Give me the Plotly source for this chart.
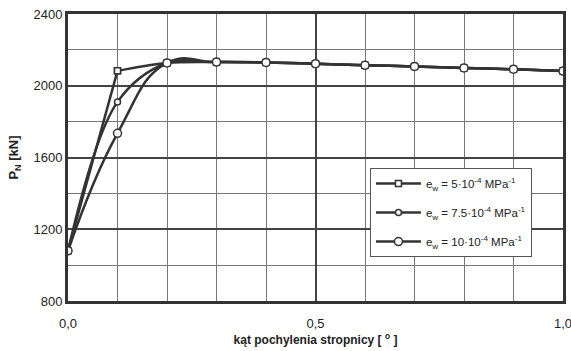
import plotly.graph_objects as go

x_vals = [0.0, 0.1, 0.2, 0.3, 0.4, 0.5, 0.6, 0.7, 0.8, 0.9, 1.0]
s1 = [1080, 2083, 2127, 2132, 2130, 2123, 2114, 2108, 2099, 2092, 2082]
s2 = [1080, 1910, 2127, 2132, 2130, 2123, 2114, 2108, 2099, 2092, 2082]
s3 = [1080, 1735, 2127, 2132, 2130, 2123, 2114, 2108, 2099, 2092, 2082]
names = ["e<sub>w</sub> = 5·10<sup>-4</sup> MPa<sup>-1</sup>",
         "e<sub>w</sub> = 7.5·10<sup>-4</sup> MPa<sup>-1</sup>",
         "e<sub>w</sub> = 10·10<sup>-4</sup> MPa<sup>-1</sup>"]
symbols = ["square", "circle", "circle"]
sizes = [6, 6, 8]
smooth = [1.0, 1.0, 1.3]
x_ticks = [0.0, 0.5, 1.0]
x_ticktext = ["0,0", "0,5", "1,0"]
y_ticks = [800, 1200, 1600, 2000, 2400]

col = "#333333"
fig = go.Figure()
for i, (ys, nm) in enumerate(zip([s1, s2, s3], names)):
    mk = dict(symbol=symbols[i], size=sizes[i], color="white",
              line=dict(color=col, width=1.5))
    start = 0
    if i == 0:
        # steep initial rise drawn as a straight segment
        fig.add_trace(go.Scatter(
            x=x_vals[:2], y=ys[:2], mode="lines+markers", showlegend=False,
            line=dict(color=col, width=2.5), marker=mk, legendgroup=str(i),
        ))
        start = 1
    fig.add_trace(go.Scatter(
        x=x_vals[start:], y=ys[start:], name=nm, mode="lines+markers",
        line=dict(color=col, width=2.5, shape="spline", smoothing=smooth[i]),
        marker=mk, legendgroup=str(i),
    ))

fig.update_layout(
    width=571, height=351,
    margin=dict(l=68, r=8, t=14, b=50),
    paper_bgcolor="white", plot_bgcolor="white",
    font=dict(family="Liberation Sans, Arial", size=12, color="#222222"),
    showlegend=True,
    legend=dict(x=0.61, y=0.463, xanchor="left", yanchor="top",
                bgcolor="white", bordercolor="#555555", borderwidth=1,
                font=dict(size=11.5, color="#222222"),
                traceorder="grouped", tracegroupgap=10,
                itemwidth=45),
)
fig.update_xaxes(
    range=[0, 1], tickvals=x_ticks, ticktext=x_ticktext,
    showgrid=True, gridcolor="#444444", gridwidth=2,
    minor=dict(dtick=0.1, showgrid=True, gridcolor="#777777", gridwidth=1),
    showline=True, linecolor="#333333", linewidth=3, mirror=True,
    ticks="", zeroline=False, automargin=False, ticklabeloverflow="allow",
    tickfont=dict(size=13, color="#222222"), ticklabelstandoff=8,
    title=dict(text="<b>kąt pochylenia stropnicy [ <sup>o</sup> ]</b>",
               font=dict(size=12), standoff=6),
)
fig.update_yaxes(
    range=[800, 2400], tickvals=y_ticks,
    showgrid=True, gridcolor="#444444", gridwidth=2,
    minor=dict(dtick=200, showgrid=True, gridcolor="#777777", gridwidth=1),
    showline=True, linecolor="#333333", linewidth=3, mirror=True,
    ticks="", zeroline=False, automargin=False,
    tickfont=dict(size=13, color="#222222"),
    title=dict(text="<b>P<sub>N</sub> [kN]</b>", font=dict(size=13), standoff=12),
)
fig.write_html("out.html")
